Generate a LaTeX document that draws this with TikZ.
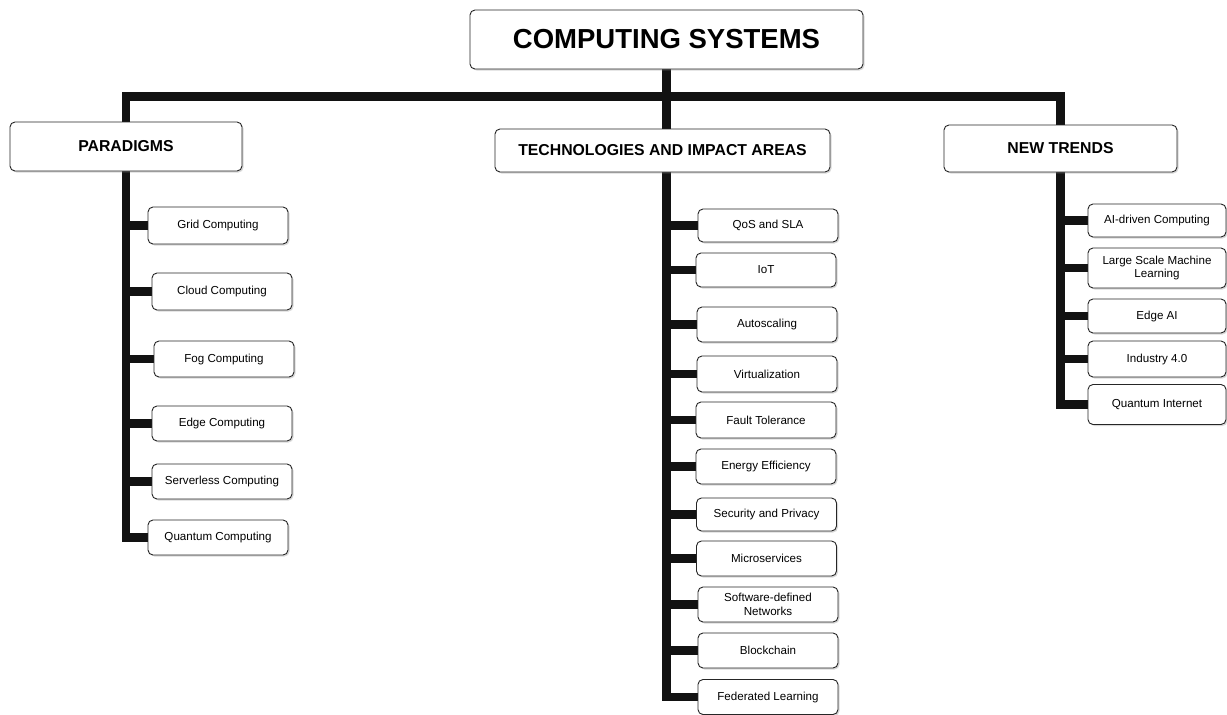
\documentclass[tikz,border=0pt]{standalone}
\usepackage{fontspec}
\setmainfont{Liberation Sans}
\usetikzlibrary{shadows,backgrounds}
\begin{document}
\begin{tikzpicture}[x=1pt,y=-1pt,
 box/.style={draw=black!85, line width=0.9pt, rounded corners=5pt, fill=white,
   drop shadow={shadow xshift=1.5pt,shadow yshift=-1.5pt,opacity=0.3},
   inner sep=0pt, align=center},
 leaf/.style={box, minimum width=140pt, minimum height=35pt, font=\fontsize{11.6}{13.5}\selectfont},
 rleaf/.style={leaf, minimum width=138pt},
 head/.style={box, font=\bfseries\fontsize{15.8}{18}\selectfont},
 conn/.style={line width=8.5pt, draw=black!93, line join=miter},
]
\useasboundingbox (0,0) rectangle (1227,715);

% top and headers
\node[box, minimum width=393pt, minimum height=59pt, font=\bfseries\fontsize{27.5}{30}\selectfont] (top) at (666.5,39.5) {COMPUTING SYSTEMS};
\node[head, minimum width=232pt, minimum height=49pt] (P) at (126,146.5) {PARADIGMS};
\node[head, minimum width=335pt, minimum height=43pt] (T) at (662.5,150.5) {TECHNOLOGIES AND IMPACT AREAS};
\node[head, minimum width=233pt, minimum height=47pt] (N) at (1060.5,148.5) {NEW TRENDS};
\coordinate (bar) at (666.5,96.5);

% paradigms
\node[leaf, minimum height=37pt] (p1) at (218,225.5) {Grid Computing};
\node[leaf, minimum height=37pt] (p2) at (222,291.5) {Cloud Computing};
\node[leaf, minimum height=36pt] (p3) at (224,359) {Fog Computing};
\node[leaf] (p4) at (222,423.5) {Edge Computing};
\node[leaf] (p5) at (222,481.5) {Serverless Computing};
\node[leaf] (p6) at (218,537.5) {Quantum Computing};

% technologies
\node[leaf, minimum height=33pt] (m1) at (768,225.5) {QoS and SLA};
\node[leaf, minimum height=34pt] (m2) at (766,270) {IoT};
\node[leaf] (m3) at (767,324.5) {Autoscaling};
\node[leaf, minimum height=36pt] (m4) at (767,374) {Virtualization};
\node[leaf, minimum height=36pt] (m5) at (766,420) {Fault Tolerance};
\node[leaf] (m6) at (766,466.5) {Energy Efficiency};
\node[leaf, minimum height=33pt] (m7) at (766.5,514.5) {Security and Privacy};
\node[leaf] (m8) at (766.5,558.5) {Microservices};
\node[leaf] (m9) at (768,604.5) {Software-defined\\Networks};
\node[leaf] (m10) at (768,650.5) {Blockchain};
\node[leaf] (m11) at (768,697) {Federated Learning};

% new trends
\node[rleaf, minimum height=33pt] (r1) at (1157,220.5) {AI-driven Computing};
\node[rleaf, minimum height=40pt] (r2) at (1157,268) {Large Scale Machine\\Learning};
\node[rleaf, minimum height=34pt] (r3) at (1157,316) {Edge AI};
\node[rleaf, minimum height=36pt] (r4) at (1157,359) {Industry 4.0};
\node[rleaf, minimum height=40pt] (r5) at (1157,404.5) {Quantum Internet};

\begin{pgfonlayer}{background}
\fill[white] (0,0) rectangle (1227,715);
\draw[conn] (P.north) |- (bar) -| (N.north);
\draw[conn] (top.south) -- (top.south |- T.north);
% paradigms
\draw[conn] (P.south) |- (p6.west);
\foreach \c in {p1,p2,p3,p4,p5}
  \draw[conn] (P.south |- \c.west) -- (\c.west);
% technologies
\draw[conn] (top.south |- T.south) |- (m11.west);
\foreach \c in {m1,m2,m3,m4,m5,m6,m7,m8,m9,m10}
  \draw[conn] (top.south |- \c.west) -- (\c.west);
% new trends
\draw[conn] (N.south) |- (r5.west);
\foreach \c in {r1,r2,r3,r4}
  \draw[conn] (N.south |- \c.west) -- (\c.west);
\end{pgfonlayer}
\end{tikzpicture}
\end{document}
